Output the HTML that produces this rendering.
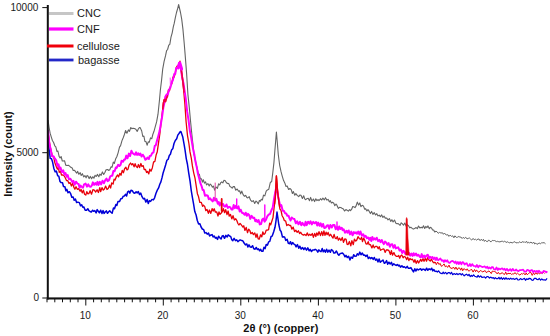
<!DOCTYPE html>
<html><head><meta charset="utf-8"><style>
html,body{margin:0;padding:0;background:#fff;}
body{width:550px;height:336px;overflow:hidden;position:relative;font-family:"Liberation Sans",sans-serif;}
svg{position:absolute;left:0;top:0;}
.t{position:absolute;font-size:10px;line-height:10px;color:#1a1a1a;white-space:nowrap;}
.b{font-weight:bold;color:#111;font-size:11px;line-height:11px;}
.lg{position:absolute;font-size:11px;line-height:11px;color:#1a1a1a;white-space:nowrap;left:77px;}
</style></head><body>
<svg width="550" height="336" viewBox="0 0 550 336">
<rect width="550" height="336" fill="#fff"/>
<path d="M48.0,120.0 L49.1,127.5 L50.1,133.2 L51.4,137.4 L52.4,140.5 L53.6,142.5 L54.8,145.8 L55.8,146.9 L57.0,151.5 L57.9,151.0 L59.1,156.4 L60.1,158.0 L61.1,156.5 L62.3,161.0 L63.6,160.9 L64.6,160.8 L65.7,165.1 L67.0,165.5 L68.4,165.3 L69.6,166.1 L70.8,167.3 L72.2,168.0 L73.2,170.5 L74.6,170.3 L75.7,171.8 L76.7,173.1 L77.7,171.4 L78.8,174.3 L80.2,172.6 L81.2,175.5 L82.4,173.7 L83.7,176.9 L84.9,175.6 L86.1,177.8 L87.1,175.4 L88.1,176.2 L89.1,178.6 L90.4,176.4 L91.6,178.8 L92.7,176.7 L93.9,178.2 L95.1,175.3 L96.2,176.5 L97.5,174.4 L98.8,176.7 L99.9,174.0 L101.1,175.3 L102.4,171.9 L103.7,174.5 L105.0,172.3 L106.1,169.8 L107.6,169.5 L108.6,170.4 L109.8,169.7 L111.1,166.7 L112.1,167.2 L113.3,162.0 L114.3,163.5 L115.6,159.1 L116.9,156.5 L118.1,152.8 L119.5,147.1 L120.6,145.6 L121.9,140.9 L123.2,137.8 L124.4,134.5 L125.6,130.5 L126.9,133.2 L128.4,129.9 L129.5,131.4 L130.8,127.5 L131.8,128.6 L133.1,128.2 L134.4,128.5 L135.8,129.3 L137.2,131.4 L138.3,129.0 L139.4,127.6 L140.2,127.6 L141.7,131.0 L142.8,136.5 L143.9,136.1 L144.9,141.4 L145.9,141.5 L147.2,145.2 L148.2,141.8 L149.3,142.2 L150.5,137.9 L151.8,138.7 L152.8,134.5 L154.0,131.3 L155.2,126.8 L156.6,121.9 L158.0,114.2 L159.4,100.7 L160.4,89.7 L161.6,79.9 L162.7,69.1 L164.1,61.3 L165.5,55.9 L166.6,50.7 L167.6,49.5 L168.7,45.3 L169.8,44.4 L171.0,37.2 L172.2,32.8 L173.3,26.9 L174.2,23.4 L175.4,17.3 L176.5,12.5 L177.8,8.1 L178.6,4.5 L180.5,12.5 L181.7,19.1 L182.9,28.9 L184.2,43.3 L185.2,55.4 L186.6,73.4 L187.9,94.4 L189.3,107.6 L190.7,122.8 L191.8,133.7 L193.0,144.8 L194.0,154.4 L195.2,159.4 L196.2,164.6 L197.2,168.3 L198.3,173.7 L199.3,174.2 L200.4,178.9 L201.4,178.7 L202.4,182.1 L203.4,179.8 L204.4,183.1 L205.6,181.8 L206.5,184.9 L207.9,183.6 L209.2,186.0 L210.2,184.1 L211.3,185.1 L212.4,187.2 L213.5,186.2 L214.6,190.1 L215.9,187.0 L217.4,188.4 L218.6,183.9 L219.7,184.9 L220.7,182.8 L221.8,181.9 L222.9,182.9 L224.0,180.3 L225.3,180.8 L226.4,182.7 L227.3,183.4 L228.8,183.6 L230.0,186.6 L231.0,187.1 L232.2,188.2 L233.2,186.6 L234.4,186.5 L235.8,190.2 L237.2,189.0 L238.5,191.2 L239.6,190.7 L240.7,193.9 L241.8,191.1 L243.1,194.6 L244.3,196.3 L245.6,195.4 L246.8,197.4 L247.8,197.9 L249.2,196.7 L250.6,200.2 L252.0,201.6 L253.3,200.6 L254.7,203.4 L256.0,201.0 L257.1,202.2 L258.3,203.8 L259.4,200.5 L260.4,201.2 L261.3,199.3 L262.4,199.9 L263.5,195.1 L264.8,195.9 L266.2,191.1 L267.4,189.9 L268.8,189.2 L270.3,182.5 L271.7,181.5 L272.8,172.6 L273.9,162.9 L274.9,150.3 L276.4,132.0 L277.1,140.0 L278.3,154.8 L279.7,165.5 L281.1,171.9 L282.3,176.3 L283.5,180.3 L284.9,183.2 L285.9,186.4 L287.2,186.0 L288.6,189.5 L289.9,188.5 L291.2,189.7 L292.4,193.5 L293.4,191.6 L294.8,195.2 L295.9,193.7 L297.2,195.4 L298.7,196.6 L299.8,195.1 L301.0,195.3 L302.4,198.5 L303.7,195.7 L304.7,198.9 L305.8,199.7 L306.8,198.7 L308.2,198.2 L309.5,200.7 L310.6,197.4 L311.9,201.0 L313.4,199.0 L314.6,201.6 L315.8,198.8 L317.0,200.6 L318.0,199.5 L319.0,200.7 L320.4,198.7 L321.7,200.0 L322.9,198.1 L324.3,199.9 L325.5,197.7 L326.8,200.1 L328.2,199.4 L329.3,201.9 L330.3,200.7 L331.4,203.0 L332.5,202.3 L333.8,203.3 L334.8,205.7 L336.0,204.0 L337.0,205.4 L338.4,208.4 L339.5,207.4 L340.7,207.5 L342.0,208.3 L343.4,209.0 L344.5,211.0 L345.9,209.6 L347.1,210.2 L348.3,211.2 L349.6,209.6 L350.5,210.7 L351.7,209.2 L352.7,206.5 L353.7,206.7 L355.0,207.6 L356.1,205.9 L357.3,202.1 L358.6,205.0 L359.8,202.9 L360.9,206.6 L362.1,205.3 L363.4,205.9 L364.7,209.3 L365.7,208.7 L366.9,210.9 L368.0,209.7 L369.1,211.2 L370.4,213.6 L371.6,211.4 L372.9,214.4 L374.2,212.6 L375.6,215.0 L376.8,213.7 L378.0,215.9 L379.2,215.1 L380.4,216.7 L381.7,214.9 L382.9,217.5 L384.1,216.2 L385.3,218.1 L386.7,218.0 L388.0,219.9 L389.4,218.6 L390.8,221.5 L391.9,219.7 L393.1,221.9 L394.5,220.0 L395.9,223.3 L396.9,223.7 L397.9,223.5 L399.1,224.4 L400.1,225.4 L401.2,222.8 L402.2,223.7 L403.5,225.2 L404.8,223.0 L406.2,226.3 L407.2,224.8 L408.5,225.8 L409.8,227.8 L410.8,227.2 L412.2,228.4 L413.6,229.1 L414.7,228.4 L416.1,227.6 L417.3,228.7 L418.5,226.1 L419.9,227.9 L421.3,227.3 L422.3,228.0 L423.5,225.8 L424.7,228.4 L425.8,226.4 L426.9,227.7 L428.0,225.9 L429.3,228.8 L430.2,227.2 L431.5,227.9 L432.6,230.0 L433.6,230.0 L434.7,231.9 L436.0,231.2" fill="none" stroke="#646464" stroke-width="1.1" stroke-linejoin="round"/>
<path d="M436.0,231.2 L437.2,231.9 L438.2,233.3 L439.6,232.4 L441.0,233.1 L442.4,232.7 L443.4,234.3 L444.5,233.0 L445.5,234.5 L446.8,235.0 L447.9,234.7 L448.9,236.4 L450.1,235.1 L451.5,236.4 L452.8,235.8 L453.9,237.8 L454.9,235.8 L456.3,237.4 L457.6,237.2 L458.9,236.4 L459.9,237.2 L460.9,237.0 L462.1,238.5 L463.3,237.3 L464.3,238.5 L465.7,237.2 L467.0,238.9 L468.3,238.4 L469.3,237.9 L470.7,239.2 L471.7,240.1 L473.1,238.4 L474.2,239.8 L475.4,239.2 L476.6,240.1 L478.0,239.0 L479.1,239.1 L480.1,240.7 L481.3,239.2 L482.4,240.6 L483.4,239.3 L484.4,241.4 L485.4,240.1 L486.5,241.5 L487.6,241.6 L488.7,239.9 L490.0,241.4 L491.1,241.8 L492.3,240.4 L493.4,240.6 L494.5,240.5 L495.5,240.8 L496.5,242.1 L497.5,241.1 L498.8,241.8 L500.0,241.9 L501.1,241.4 L502.3,241.2 L503.7,241.9 L504.7,241.0 L506.1,242.6 L507.2,241.7 L508.4,242.4 L509.8,242.9 L510.9,242.2 L512.1,243.0 L513.4,242.3 L514.9,241.7 L516.0,242.9 L517.3,242.7 L518.6,242.7 L519.9,241.7 L521.1,242.9 L522.2,241.6 L523.2,242.3 L524.2,241.7 L525.2,242.7 L526.5,241.2 L527.6,243.2 L528.6,242.2 L529.6,242.9 L531.0,242.1 L532.4,243.4 L533.6,242.0 L534.7,244.0 L535.8,243.1 L536.9,244.3 L538.1,243.8 L539.1,242.9 L540.3,243.8 L541.4,242.9 L542.8,242.8 L544.2,242.7 L545.5,243.8" fill="none" stroke="#646464" stroke-width="1.0" stroke-linejoin="round"/>
<path d="M48.0,140.0 L49.2,150.1 L50.2,158.4 L51.5,158.8 L52.5,161.7 L53.8,168.2 L55.1,171.8 L56.4,171.1 L57.7,175.8 L58.8,176.1 L60.0,181.5 L61.1,182.6 L62.5,182.8 L63.5,186.5 L64.9,186.7 L65.9,190.8 L66.9,189.4 L68.0,192.7 L69.4,191.7 L70.6,193.6 L71.8,197.3 L73.2,197.1 L74.2,200.3 L75.4,199.1 L76.6,202.6 L77.9,202.1 L79.3,202.6 L80.5,205.8 L81.7,204.8 L82.8,207.2 L83.8,206.9 L85.2,210.2 L86.5,210.2 L87.8,208.7 L88.8,210.7 L90.0,211.5 L91.3,212.1 L92.6,210.2 L93.6,211.3 L94.8,210.6 L96.1,212.9 L97.2,209.6 L98.3,211.3 L99.4,212.8 L100.7,210.2 L102.0,213.5 L103.1,210.6 L104.1,213.4 L105.2,212.1 L106.3,210.9 L107.5,213.3 L108.5,212.0 L109.7,210.8 L110.7,212.0 L112.1,213.2 L113.5,207.9 L114.5,208.8 L115.9,204.4 L116.9,205.4 L118.0,201.4 L119.5,201.6 L120.8,198.7 L122.1,198.4 L123.3,196.2 L124.3,196.1 L125.6,194.3 L126.6,196.0 L127.7,191.8 L128.8,191.1 L129.8,193.1 L131.0,190.2 L132.3,190.7 L133.6,192.8 L134.8,193.2 L136.1,191.8 L137.2,192.9 L138.3,191.5 L139.5,194.6 L140.7,193.1 L142.0,196.7 L143.4,198.9 L144.5,198.3 L145.8,202.1 L147.1,199.5 L148.3,203.6 L149.3,200.7 L150.6,201.4 L152.0,199.4 L153.4,199.9 L154.6,197.8 L156.0,193.2 L157.3,190.1 L158.6,187.9 L159.8,184.3 L160.9,181.9 L162.1,177.4 L163.1,173.0 L164.3,169.3 L165.6,165.0 L166.9,160.3 L168.2,159.2 L169.3,155.5 L170.4,154.3 L171.6,149.9 L172.9,148.4 L174.0,143.5 L175.3,140.5 L176.7,138.8 L177.8,135.1 L179.0,133.5 L180.4,131.5 L181.0,131.7 L182.7,136.7 L184.1,144.4 L185.1,150.4 L186.3,158.8 L187.4,164.0 L188.7,172.8 L190.1,181.4 L191.3,190.8 L192.3,196.8 L193.6,204.1 L194.8,211.6 L196.1,215.0 L197.3,220.5 L198.6,223.9 L199.9,223.8 L201.1,227.0 L202.3,229.0 L203.7,229.7 L204.8,233.1 L206.1,232.6 L207.2,234.2 L208.5,233.0 L209.6,235.9 L211.0,235.0 L212.1,234.6 L213.1,237.0 L214.2,236.0 L215.4,238.2 L216.3,237.4 L217.5,239.4 L218.6,236.3 L219.9,237.9 L221.1,239.0 L222.2,236.0 L223.2,235.6 L224.5,238.3 L225.9,235.4 L227.2,236.9 L228.2,234.9 L229.6,236.0 L230.7,236.6 L231.8,239.7 L232.8,240.7 L234.1,238.4 L235.5,240.7 L236.7,239.9 L237.9,241.7 L239.2,240.5 L240.2,239.9 L241.7,240.6 L242.8,240.8 L244.1,243.0 L245.4,244.9 L246.8,244.0 L247.9,247.0 L249.0,244.9 L250.3,247.1 L251.3,247.3 L252.6,245.7 L253.8,248.8 L255.1,249.2 L256.2,247.5 L257.4,249.5 L258.5,248.9 L259.6,250.8 L260.7,249.3 L261.6,251.2 L262.9,251.3 L264.0,247.3 L265.1,248.6 L266.2,244.5 L267.4,245.2 L268.6,241.9 L269.8,241.4 L271.1,236.5 L272.2,236.1 L273.7,231.7 L275.0,227.3 L276.0,220.8 L277.0,212.0 L278.8,224.5 L280.1,230.3 L281.1,231.5 L282.5,237.1 L283.7,236.7 L284.7,237.1 L285.7,240.4 L287.1,239.3 L288.4,243.4 L289.5,243.7 L290.5,241.7 L291.5,244.6 L292.6,242.6 L293.9,244.1 L295.0,244.7 L296.1,246.9 L297.4,244.6 L298.8,248.2 L299.8,246.2 L301.2,249.1 L302.5,247.5 L303.8,249.5 L305.1,247.8 L306.5,250.1 L307.8,247.9 L309.2,250.8 L310.2,249.3 L311.5,251.5 L312.7,250.1 L314.1,250.0 L315.2,249.3 L316.6,250.1 L317.8,252.2 L318.9,249.9 L320.0,251.1 L321.0,251.7 L322.2,248.5 L323.2,251.8 L324.4,250.0 L325.4,252.2 L326.6,249.2 L327.8,252.1 L329.0,250.1 L330.4,252.3 L331.4,249.6 L332.7,250.5 L333.9,253.1 L335.1,252.9 L336.4,251.0 L337.8,253.9 L338.9,255.2 L340.1,253.6 L341.5,253.2 L342.5,253.1 L343.8,254.5 L345.0,256.8 L346.0,255.3 L347.3,257.5 L348.6,256.2 L350.0,259.9 L351.1,257.1 L352.5,258.3 L353.7,254.8 L354.9,256.3 L356.3,256.1 L357.3,253.8 L358.6,255.0 L359.8,252.1 L361.0,254.8 L362.3,253.0 L363.5,255.2 L364.7,254.9 L365.9,256.5 L367.2,255.1 L368.3,258.6 L369.4,257.2 L370.6,258.6 L371.8,257.5 L373.2,259.4 L374.3,257.5 L375.6,260.3 L376.8,259.1 L378.0,261.9 L379.1,259.0 L380.3,262.2 L381.7,261.0 L383.0,260.0 L384.3,263.3 L385.4,262.6 L386.6,260.6 L387.7,264.2 L388.9,262.2 L390.2,264.0 L391.5,262.4 L392.5,265.4 L393.8,263.8 L395.2,265.0 L396.4,265.4 L397.4,264.5 L398.5,265.9 L399.4,265.2 L400.5,267.2 L401.9,265.7 L403.2,267.3 L404.4,266.8 L405.8,268.0 L407.2,266.4 L408.4,268.3 L409.7,268.3 L410.9,267.6 L412.2,269.8 L413.5,271.9 L414.8,268.7 L415.8,271.0 L417.1,269.0 L418.3,270.0 L419.6,269.1 L420.6,268.8 L421.7,270.3 L422.6,269.3 L424.0,269.3 L425.4,270.4 L426.6,268.2 L427.8,270.3 L429.1,268.8 L430.5,269.7 L431.7,268.2 L432.8,270.9 L433.9,269.5 L435.1,271.7" fill="none" stroke="#0000d8" stroke-width="1.5" stroke-linejoin="round"/>
<path d="M435.1,271.7 L436.2,271.0 L437.3,272.0 L438.6,270.8 L440.0,272.8 L441.0,273.4 L442.2,273.7 L443.2,272.1 L444.2,273.7 L445.6,272.3 L446.8,274.0 L448.2,272.7 L449.4,272.7 L450.4,273.8 L451.5,272.3 L452.7,274.7 L454.2,273.6 L455.6,274.4 L456.8,273.5 L457.9,274.7 L458.9,273.9 L460.2,273.6 L461.3,275.0 L462.3,273.7 L463.3,274.9 L464.2,275.8 L465.5,274.7 L466.5,274.2 L468.0,275.6 L469.0,274.3 L470.3,276.6 L471.4,275.3 L472.3,276.3 L473.6,274.8 L474.7,276.2 L476.0,276.7 L477.1,277.1 L478.1,275.4 L479.4,277.1 L480.7,275.8 L482.1,277.5 L483.4,277.2 L484.4,276.8 L485.6,278.1 L486.9,276.6 L488.1,276.6 L489.5,278.0 L490.6,277.1 L492.0,278.1 L493.3,277.6 L494.3,278.8 L495.3,277.6 L496.5,278.7 L497.9,278.7 L498.9,277.3 L500.0,279.1 L501.3,277.5 L502.4,279.4 L503.7,277.8 L504.9,279.3 L505.9,277.7 L507.0,279.2 L508.3,278.4 L509.5,279.3 L510.7,278.1 L511.8,279.2 L513.1,278.4 L514.2,279.4 L515.5,278.9 L516.8,278.2 L517.9,280.0 L519.1,279.9 L520.4,278.6 L521.8,279.6 L523.2,279.0 L524.4,278.4 L525.5,280.3 L526.5,278.8 L527.9,279.5 L529.2,278.3 L530.6,278.7 L531.7,280.0 L532.9,280.3 L534.4,278.3 L535.7,278.3 L537.0,279.5 L538.1,279.7 L539.3,278.5 L540.6,280.2 L541.8,278.9 L543.1,279.9 L544.3,279.9 L545.7,280.1 L547.1,278.4" fill="none" stroke="#0000d8" stroke-width="1.2" stroke-linejoin="round"/>
<path d="M48.0,132.0 L49.0,139.0 L50.1,146.4 L51.4,151.9 L52.4,156.4 L53.7,156.9 L54.7,162.2 L55.9,165.6 L57.3,169.1 L58.3,167.7 L59.3,172.4 L60.5,171.1 L61.5,175.1 L62.8,175.0 L63.8,175.5 L65.1,177.5 L66.5,180.5 L67.8,180.7 L69.0,183.5 L70.1,182.6 L71.4,186.0 L72.6,183.2 L73.8,187.1 L74.9,189.2 L76.0,186.7 L77.3,189.3 L78.7,188.7 L80.1,191.3 L81.1,189.4 L82.2,192.9 L83.4,190.2 L84.6,194.2 L85.8,195.1 L86.8,191.6 L87.8,193.8 L88.9,193.5 L90.1,190.7 L91.5,194.2 L92.9,189.7 L94.3,190.2 L95.7,192.0 L97.1,189.8 L98.4,192.5 L99.8,187.7 L100.7,191.6 L102.0,187.6 L103.3,190.1 L104.4,189.1 L105.6,186.1 L107.0,189.5 L108.2,188.4 L109.5,185.2 L110.6,188.0 L111.7,182.9 L113.1,184.1 L114.1,179.2 L115.1,180.1 L116.4,176.6 L117.6,175.0 L118.6,176.9 L119.9,173.3 L121.0,175.3 L122.2,170.3 L123.4,172.7 L124.6,168.8 L125.9,167.3 L127.0,169.9 L128.0,169.2 L129.1,165.0 L130.5,163.0 L131.7,164.9 L132.7,163.6 L134.1,166.8 L135.1,163.7 L136.2,166.6 L137.4,167.6 L138.4,164.5 L139.6,167.6 L140.9,163.5 L141.9,166.5 L143.2,165.6 L144.2,169.5 L145.4,169.3 L146.6,172.5 L147.6,171.5 L148.8,173.9 L149.8,169.2 L151.0,171.3 L152.3,167.9 L153.6,161.8 L154.9,161.5 L156.2,154.7 L157.2,152.1 L158.6,142.4 L159.9,133.4 L160.9,124.4 L162.3,112.2 L163.8,100.0 L164.5,101.8 L165.5,100.4 L167.1,96.6 L168.5,89.7 L169.5,90.8 L170.8,84.6 L171.8,83.8 L172.9,77.1 L174.0,77.3 L175.0,74.3 L176.2,68.1 L177.3,65.9 L178.4,67.0 L180.0,61.2 L180.9,69.6 L182.3,77.8 L183.5,88.4 L184.9,104.3 L186.1,121.8 L187.5,135.6 L188.9,143.5 L190.0,151.9 L191.3,158.2 L192.4,165.9 L193.7,172.8 L195.0,178.2 L196.4,187.1 L197.4,193.7 L198.5,196.6 L199.8,202.4 L201.3,202.4 L202.6,206.3 L203.5,205.1 L204.8,206.6 L205.8,210.6 L207.0,209.5 L208.4,213.3 L209.4,210.0 L210.8,213.4 L212.1,208.6 L213.1,211.1 L214.2,208.8 L215.4,212.2 L216.7,211.9 L218.0,216.0 L219.0,211.9 L220.0,214.4 L221.0,213.3 L222.3,211.6 L223.4,208.7 L224.6,212.7 L225.7,209.6 L227.0,214.6 L228.1,211.0 L229.2,216.0 L230.5,214.5 L231.8,218.9 L233.0,215.7 L234.4,220.0 L235.8,218.8 L236.8,220.5 L237.9,223.5 L238.9,225.0 L240.1,223.4 L241.5,225.2 L242.9,227.1 L243.8,225.8 L244.9,230.4 L246.2,227.4 L247.5,232.7 L248.7,229.1 L249.9,230.7 L250.9,233.7 L252.3,232.5 L253.4,234.6 L254.8,232.9 L256.0,237.3 L257.0,233.9 L258.2,238.9 L259.2,239.2 L260.6,234.8 L261.8,236.8 L262.8,231.8 L263.9,234.5 L265.0,233.6 L266.2,230.2 L267.4,230.2 L268.6,229.6 L269.7,223.2 L270.7,224.9 L271.9,221.0 L273.0,217.6 L274.0,208.6 L275.2,198.3 L276.4,176.0 L277.6,190.6 L278.6,198.6 L279.9,209.0 L281.0,210.3 L282.1,215.7 L283.3,217.8 L284.4,220.7 L285.6,220.8 L286.8,225.5 L288.2,224.5 L289.7,225.6 L290.6,225.4 L291.9,229.2 L293.2,227.1 L294.6,231.6 L295.9,230.3 L297.2,232.3 L298.4,230.8 L299.6,233.6 L300.7,232.3 L302.0,234.3 L303.4,235.1 L304.8,234.4 L306.1,235.6 L307.2,232.9 L308.5,235.6 L309.8,234.3 L311.0,235.4 L312.3,233.5 L313.4,237.3 L314.7,233.4 L315.8,236.5 L316.8,232.8 L317.9,235.3 L319.0,231.7 L320.5,235.6 L321.7,231.6 L322.8,235.5 L323.9,230.9 L325.0,235.4 L326.1,232.2 L327.1,234.7 L328.1,232.4 L329.4,235.9 L330.6,234.3 L331.8,236.4 L333.0,238.1 L334.1,234.4 L335.2,238.1 L336.2,238.7 L337.3,236.6 L338.4,240.2 L339.7,238.2 L340.9,240.5 L342.3,237.5 L343.5,242.3 L344.9,238.8 L346.1,239.4 L347.1,244.4 L348.1,244.5 L349.4,241.5 L350.8,245.8 L351.9,240.6 L353.3,244.7 L354.4,239.2 L355.8,241.1 L356.8,240.0 L358.0,236.7 L359.4,238.7 L360.5,239.3 L361.6,237.4 L362.5,241.5 L363.6,238.2 L364.7,240.1 L366.0,243.9 L367.0,244.1 L368.2,241.7 L369.2,244.7 L370.5,244.7 L371.9,247.9 L373.1,244.9 L374.2,247.9 L375.5,246.4 L376.9,246.4 L378.2,248.7 L379.2,246.7 L380.5,250.3 L381.9,249.5 L383.0,249.0 L384.0,249.1 L385.1,252.4 L386.3,250.0 L387.7,249.8 L389.0,250.7 L390.4,254.5 L391.4,250.6 L392.5,255.1 L393.9,252.6 L395.1,255.2 L396.3,256.3 L397.6,256.4 L398.7,255.5 L399.7,258.2 L400.8,255.7 L401.8,255.0 L403.1,257.8 L404.2,256.5 L405.4,257.0 L406.7,259.6 L407.7,257.2 L408.9,260.6 L409.9,258.4 L411.3,259.7 L412.5,259.2 L414.0,262.2 L414.9,259.6 L416.2,263.3 L417.5,260.6 L418.6,263.0 L419.6,261.4 L420.7,259.4 L421.7,261.3 L423.0,258.7 L424.0,261.3 L425.4,258.3 L426.5,261.2 L427.8,257.5 L429.0,260.1 L430.2,261.0 L431.5,259.2 L432.7,261.7 L433.9,262.9 L435.2,261.9" fill="none" stroke="#e8000a" stroke-width="1.3" stroke-linejoin="round"/>
<path d="M435.2,261.9 L436.3,264.7 L437.6,262.0 L438.9,264.5 L440.2,263.4 L441.3,266.3 L442.7,265.6 L444.1,263.9 L445.3,266.8 L446.4,265.8 L447.6,267.4 L449.0,265.1 L450.0,267.6 L451.0,268.1 L452.2,268.6 L453.4,267.0 L454.8,269.3 L455.9,267.1 L457.3,269.8 L458.4,267.9 L459.7,268.0 L460.7,270.2 L461.7,267.9 L462.7,270.8 L463.7,268.8 L464.9,269.1 L466.1,270.3 L467.2,268.8 L468.6,271.1 L469.7,270.8 L470.8,269.5 L471.8,269.6 L473.1,272.1 L474.5,269.5 L475.6,271.7 L476.5,269.9 L477.9,271.8 L479.0,272.3 L480.4,270.5 L481.6,271.2 L482.9,272.0 L484.0,271.0 L485.3,270.8 L486.5,272.8 L487.6,271.5 L489.0,271.0 L490.0,271.9 L491.3,273.6 L492.3,271.1 L493.6,271.4 L494.7,271.6 L496.1,272.3 L497.1,273.9 L498.3,272.3 L499.5,274.0 L500.9,273.6 L502.3,272.6 L503.6,274.2 L504.6,274.4 L505.7,272.1 L506.8,274.6 L508.0,273.1 L509.1,273.8 L510.1,273.1 L511.4,274.4 L512.7,273.8 L513.8,273.9 L515.2,272.6 L516.3,274.3 L517.5,273.2 L518.6,274.2 L519.9,275.1 L521.3,273.6 L522.4,274.1 L523.7,273.1 L525.1,274.9 L526.2,273.0 L527.3,274.8 L528.5,273.5 L529.9,272.5 L530.9,272.5 L532.2,275.4 L533.5,273.0 L534.6,274.6 L535.9,272.6 L537.3,274.3 L538.3,272.8 L539.7,274.0 L540.8,272.5 L542.2,273.5 L543.5,272.3 L544.6,273.5" fill="none" stroke="#e8000a" stroke-width="1.0" stroke-linejoin="round"/>
<path d="M48.0,130.0 L49.3,143.5 L50.7,149.3 L52.0,156.3 L53.5,156.2 L54.9,158.7 L56.2,160.4 L57.5,165.9 L58.5,164.3 L59.5,168.8 L60.5,167.6 L61.9,172.1 L63.2,170.3 L64.4,174.5 L65.5,173.0 L66.6,176.8 L67.7,175.1 L68.9,179.3 L70.4,178.8 L71.5,180.5 L72.5,182.1 L73.5,180.9 L74.6,184.8 L76.0,181.7 L77.4,183.6 L78.6,184.0 L79.6,187.8 L80.6,185.6 L81.6,186.7 L83.0,187.7 L84.1,184.3 L85.6,183.6 L87.0,186.6 L88.3,184.4 L89.5,186.5 L90.9,186.8 L91.9,185.3 L92.9,182.4 L94.1,184.8 L95.3,183.1 L96.4,184.7 L97.5,181.9 L98.4,185.0 L99.8,181.8 L101.1,184.4 L102.5,180.8 L104.0,183.1 L105.1,180.3 L106.5,178.6 L107.6,181.1 L109.0,180.1 L110.3,176.3 L111.3,175.8 L112.3,175.8 L113.4,171.1 L114.6,171.3 L115.8,167.6 L116.7,167.9 L118.1,164.8 L119.4,166.0 L120.6,164.8 L121.6,160.8 L123.0,161.7 L124.2,159.5 L125.2,159.5 L126.3,155.6 L127.5,158.3 L128.9,153.6 L130.1,156.0 L131.4,150.8 L132.5,152.9 L133.5,153.8 L134.9,154.7 L136.1,152.3 L137.1,154.9 L138.3,153.3 L139.3,155.0 L140.4,153.6 L141.6,156.5 L142.8,154.7 L144.1,156.7 L145.4,159.8 L146.6,158.9 L147.5,157.5 L148.9,159.0 L149.8,155.9 L151.0,155.7 L152.2,153.1 L153.5,152.3 L154.8,145.9 L155.8,145.3 L157.1,140.3 L158.4,135.7 L159.6,131.1 L160.6,125.4 L162.0,117.3 L163.3,107.8 L164.2,103.8 L165.3,96.8 L166.8,94.3 L167.8,94.8 L169.0,89.7 L170.3,87.7 L171.7,82.5 L172.9,80.0 L174.2,74.1 L175.2,74.0 L176.2,67.9 L177.7,68.0 L179.0,63.1 L180.0,65.0 L181.0,68.9 L182.0,76.6 L183.5,83.5 L184.5,90.4 L185.8,99.0 L187.2,111.9 L188.5,119.8 L189.9,131.1 L191.0,136.3 L192.0,142.6 L193.0,148.7 L194.3,154.5 L195.3,160.8 L196.7,166.9 L198.0,174.0 L199.1,178.0 L200.4,183.2 L201.5,185.8 L202.7,190.1 L203.7,190.1 L205.0,195.8 L206.4,195.2 L207.8,195.7 L208.8,199.3 L210.1,198.4 L211.4,200.1 L212.7,201.4 L213.9,197.8 L215.2,200.5 L216.4,198.9 L217.8,203.8 L218.8,202.1 L219.7,205.6 L221.0,202.9 L222.1,204.6 L223.2,204.1 L224.2,206.4 L225.5,206.4 L226.5,204.5 L227.8,207.9 L229.2,206.8 L230.4,207.4 L231.4,209.4 L232.6,209.4 L233.7,205.0 L234.9,208.1 L235.9,205.8 L237.3,208.4 L238.5,206.4 L239.7,211.5 L240.7,209.7 L242.0,212.8 L243.3,213.3 L244.7,214.7 L245.7,212.7 L246.9,215.8 L248.0,213.9 L249.3,215.2 L250.3,218.9 L251.6,215.9 L253.0,217.9 L254.3,217.7 L255.3,221.2 L256.3,219.8 L257.3,221.9 L258.6,220.1 L259.8,224.4 L261.1,224.0 L262.2,219.5 L263.4,218.6 L264.6,221.6 L265.9,219.9 L267.3,216.4 L268.6,214.7 L270.0,214.0 L271.4,210.3 L272.7,207.6 L274.0,199.1 L275.0,193.8 L276.5,186.0 L277.7,194.6 L278.8,199.6 L280.2,206.0 L281.3,205.1 L282.7,210.8 L283.8,210.8 L285.1,213.3 L286.2,213.5 L287.3,215.8 L288.5,215.7 L289.6,218.6 L290.6,220.5 L291.7,217.5 L293.2,218.7 L294.4,219.0 L295.9,223.3 L297.2,221.3 L298.5,224.3 L300.0,221.8 L301.3,225.2 L302.4,222.8 L303.5,224.7 L304.6,225.6 L305.6,221.8 L306.7,225.1 L308.1,221.7 L309.5,223.6 L310.6,221.3 L311.9,224.4 L313.2,221.9 L314.6,223.2 L316.0,222.0 L317.2,225.5 L318.2,222.6 L319.6,225.8 L320.7,223.4 L321.9,226.7 L323.1,224.0 L324.3,228.0 L325.7,227.5 L326.7,225.7 L328.0,225.2 L329.2,228.8 L330.4,224.9 L331.9,227.4 L333.0,225.0 L334.4,224.9 L335.7,229.3 L337.1,227.1 L338.1,229.8 L339.2,226.5 L340.3,229.0 L341.7,227.7 L342.6,230.1 L343.7,229.3 L345.0,232.7 L346.5,230.8 L347.5,232.7 L348.7,230.5 L350.0,234.4 L351.3,231.6 L352.6,235.3 L353.9,232.1 L355.0,233.3 L356.1,232.3 L357.0,233.7 L358.3,231.5 L359.4,234.5 L360.5,231.5 L361.9,235.7 L363.2,234.2 L364.4,236.9 L365.7,235.9 L366.9,238.2 L368.2,237.5 L369.3,239.9 L370.3,237.8 L371.3,241.0 L372.3,237.0 L373.4,239.6 L374.4,238.4 L375.5,239.6 L376.7,237.7 L378.1,241.1 L379.4,239.9 L380.5,242.1 L381.8,240.0 L382.8,242.4 L383.8,244.1 L385.0,241.6 L386.1,242.5 L387.4,244.7 L388.6,243.0 L389.9,246.8 L390.9,244.5 L392.3,244.3 L393.4,247.8 L394.8,245.1 L395.8,248.4 L397.1,247.8 L398.2,247.4 L399.6,250.5 L400.9,249.5 L402.2,253.0 L403.3,250.9 L404.2,251.3 L405.3,253.8 L406.7,252.1 L407.7,254.2 L409.0,252.9 L410.2,255.7 L411.5,253.6 L412.6,255.9 L413.6,253.3 L414.6,255.3 L416.0,253.5 L417.2,255.7 L418.4,254.7 L419.7,256.8 L420.7,257.2 L421.7,254.1 L422.7,257.4 L424.1,255.5 L425.1,257.5 L426.5,255.6 L427.7,254.7 L429.0,258.1 L430.0,256.7 L431.3,257.9 L432.4,257.0 L433.5,258.9 L434.8,257.6 L435.8,260.5" fill="none" stroke="#ff00ff" stroke-width="2.0" stroke-linejoin="round"/>
<path d="M435.8,260.5 L436.8,257.6 L438.2,260.3 L439.3,259.3 L440.4,258.5 L441.8,260.8 L442.8,260.1 L443.9,262.0 L444.9,260.1 L446.1,261.5 L447.2,260.2 L448.5,262.5 L449.7,262.9 L451.1,261.4 L452.0,260.9 L453.3,261.4 L454.7,262.9 L455.7,261.5 L456.7,263.9 L457.9,261.9 L458.9,264.1 L460.1,262.0 L461.4,264.4 L462.4,262.1 L463.4,262.3 L464.6,264.5 L465.6,263.6 L466.7,263.2 L467.9,265.8 L468.9,265.8 L469.9,263.9 L471.0,266.1 L472.2,264.1 L473.6,266.0 L474.9,266.0 L475.8,266.9 L476.9,264.9 L478.2,267.4 L479.5,265.6 L480.8,266.2 L482.3,267.1 L483.6,266.7 L484.6,266.4 L486.1,267.9 L487.3,266.6 L488.3,268.5 L489.4,267.5 L490.8,268.6 L491.8,267.0 L492.8,267.0 L493.9,269.2 L495.3,269.6 L496.5,267.5 L497.8,270.0 L498.8,268.5 L500.0,269.4 L501.1,268.8 L502.2,268.4 L503.4,269.6 L504.6,268.7 L505.6,270.6 L507.0,268.8 L508.2,270.8 L509.2,270.0 L510.2,269.1 L511.5,270.9 L512.7,268.8 L513.7,270.4 L514.9,270.5 L516.2,269.5 L517.4,270.8 L518.5,271.2 L519.7,270.1 L520.9,270.2 L522.2,269.8 L523.2,269.7 L524.6,271.7 L526.0,271.7 L527.3,269.8 L528.7,270.2 L529.8,271.6 L531.2,270.1 L532.2,270.1 L533.3,272.4 L534.5,270.8 L535.9,271.9 L536.9,270.9 L538.0,272.3 L539.0,270.7 L540.2,272.2 L541.2,272.4 L542.2,273.1 L543.6,270.9 L544.8,271.2 L546.2,272.4 L547.4,271.4" fill="none" stroke="#ff00ff" stroke-width="1.7" stroke-linejoin="round"/>
<g fill="none" stroke-linecap="round"><path d="M215.2,183 L215.2,200" stroke="#e040a0" stroke-width="1"/><path d="M221.7,199 L221.7,211" stroke="#e8000a" stroke-width="1.8"/><path d="M236.7,199 L236.7,208" stroke="#ff00ff" stroke-width="1.4"/><path d="M264.8,205 L264.8,220" stroke="#ff00ff" stroke-width="1.4"/><path d="M337,222 L337,228" stroke="#ff00ff" stroke-width="1.4"/><path d="M405.7,255 L406.1,219 L406.6,217.5 L407.3,219 L408,238 L409.2,255 Z" fill="#e8000a" stroke="#e8000a" stroke-width="0.5"/><path d="M162.8,109 L163.4,103 L164.6,99.5 L165.6,101.5 L166.4,98.5 L167.6,96" stroke="#f0003c" stroke-width="1.7" stroke-linejoin="round"/><path d="M181.2,68 L182.2,76 L183.4,86 L184,92" stroke="#f0003c" stroke-width="1.6" stroke-linejoin="round"/><path d="M178.2,68 L179.8,63 L181.6,69" stroke="#ff00ff" stroke-width="3" stroke-linejoin="round"/><path d="M170.2,78 L170.4,86" stroke="#ff30ff" stroke-width="0.9"/><path d="M274.6,204 L275.4,196 L276.4,176 L277.6,192 L278.6,200 L279.6,207" stroke="#e8000a" stroke-width="1.4" stroke-linejoin="round"/></g>
<g stroke="#111" stroke-width="1"><line x1="47.0" y1="299" x2="47.0" y2="302.3"/><line x1="54.8" y1="299" x2="54.8" y2="302.3"/><line x1="62.5" y1="299" x2="62.5" y2="302.3"/><line x1="70.3" y1="299" x2="70.3" y2="302.3"/><line x1="78.0" y1="299" x2="78.0" y2="302.3"/><line x1="85.8" y1="299" x2="85.8" y2="305.5"/><line x1="93.6" y1="299" x2="93.6" y2="302.3"/><line x1="101.3" y1="299" x2="101.3" y2="302.3"/><line x1="109.1" y1="299" x2="109.1" y2="302.3"/><line x1="116.8" y1="299" x2="116.8" y2="302.3"/><line x1="124.6" y1="299" x2="124.6" y2="302.3"/><line x1="132.3" y1="299" x2="132.3" y2="302.3"/><line x1="140.1" y1="299" x2="140.1" y2="302.3"/><line x1="147.8" y1="299" x2="147.8" y2="302.3"/><line x1="155.6" y1="299" x2="155.6" y2="302.3"/><line x1="163.3" y1="299" x2="163.3" y2="305.5"/><line x1="171.1" y1="299" x2="171.1" y2="302.3"/><line x1="178.8" y1="299" x2="178.8" y2="302.3"/><line x1="186.6" y1="299" x2="186.6" y2="302.3"/><line x1="194.3" y1="299" x2="194.3" y2="302.3"/><line x1="202.1" y1="299" x2="202.1" y2="302.3"/><line x1="209.8" y1="299" x2="209.8" y2="302.3"/><line x1="217.6" y1="299" x2="217.6" y2="302.3"/><line x1="225.3" y1="299" x2="225.3" y2="302.3"/><line x1="233.1" y1="299" x2="233.1" y2="302.3"/><line x1="240.8" y1="299" x2="240.8" y2="305.5"/><line x1="248.6" y1="299" x2="248.6" y2="302.3"/><line x1="256.3" y1="299" x2="256.3" y2="302.3"/><line x1="264.1" y1="299" x2="264.1" y2="302.3"/><line x1="271.8" y1="299" x2="271.8" y2="302.3"/><line x1="279.6" y1="299" x2="279.6" y2="302.3"/><line x1="287.4" y1="299" x2="287.4" y2="302.3"/><line x1="295.1" y1="299" x2="295.1" y2="302.3"/><line x1="302.9" y1="299" x2="302.9" y2="302.3"/><line x1="310.6" y1="299" x2="310.6" y2="302.3"/><line x1="318.4" y1="299" x2="318.4" y2="305.5"/><line x1="326.1" y1="299" x2="326.1" y2="302.3"/><line x1="333.9" y1="299" x2="333.9" y2="302.3"/><line x1="341.6" y1="299" x2="341.6" y2="302.3"/><line x1="349.4" y1="299" x2="349.4" y2="302.3"/><line x1="357.1" y1="299" x2="357.1" y2="302.3"/><line x1="364.9" y1="299" x2="364.9" y2="302.3"/><line x1="372.6" y1="299" x2="372.6" y2="302.3"/><line x1="380.4" y1="299" x2="380.4" y2="302.3"/><line x1="388.1" y1="299" x2="388.1" y2="302.3"/><line x1="395.9" y1="299" x2="395.9" y2="305.5"/><line x1="403.6" y1="299" x2="403.6" y2="302.3"/><line x1="411.4" y1="299" x2="411.4" y2="302.3"/><line x1="419.1" y1="299" x2="419.1" y2="302.3"/><line x1="426.9" y1="299" x2="426.9" y2="302.3"/><line x1="434.6" y1="299" x2="434.6" y2="302.3"/><line x1="442.4" y1="299" x2="442.4" y2="302.3"/><line x1="450.1" y1="299" x2="450.1" y2="302.3"/><line x1="457.9" y1="299" x2="457.9" y2="302.3"/><line x1="465.6" y1="299" x2="465.6" y2="302.3"/><line x1="473.4" y1="299" x2="473.4" y2="305.5"/><line x1="481.2" y1="299" x2="481.2" y2="302.3"/><line x1="488.9" y1="299" x2="488.9" y2="302.3"/><line x1="496.7" y1="299" x2="496.7" y2="302.3"/><line x1="504.4" y1="299" x2="504.4" y2="302.3"/><line x1="512.2" y1="299" x2="512.2" y2="302.3"/><line x1="519.9" y1="299" x2="519.9" y2="302.3"/><line x1="527.7" y1="299" x2="527.7" y2="302.3"/><line x1="535.4" y1="299" x2="535.4" y2="302.3"/><line x1="543.2" y1="299" x2="543.2" y2="302.3"/> <line x1="42.3" y1="298.0" x2="47" y2="298.0"/><line x1="42.3" y1="152.7" x2="47" y2="152.7"/><line x1="42.3" y1="7.6" x2="47" y2="7.6"/></g>
<rect x="46.8" y="5" width="2" height="294.5" fill="#111"/>
<rect x="46.8" y="297.4" width="503.2" height="2.1" fill="#111"/>
<line x1="49" y1="13.5" x2="73.5" y2="13.5" stroke="#c6c6c6" stroke-width="3"/>
<line x1="49" y1="29" x2="73.5" y2="29" stroke="#ff00ff" stroke-width="3.2"/>
<line x1="47" y1="46" x2="73.5" y2="46" stroke="#f0000a" stroke-width="3"/>
<line x1="49" y1="60" x2="73.5" y2="60" stroke="#2328c8" stroke-width="2.8"/>
</svg>
<div class="lg" style="top:8px;">CNC</div>
<div class="lg" style="top:23.5px;">CNF</div>
<div class="lg" style="top:40.5px;">cellulose</div>
<div class="lg" style="top:54.5px;left:78px;">bagasse</div>
<div class="t" style="left:10.5px;top:2.5px;">10000</div>
<div class="t" style="left:16.4px;top:147.9px;">5000</div>
<div class="t" style="left:33.6px;top:293.2px;">0</div>
<div class="t" style="left:70.3px;top:310.7px;width:30px;text-align:center;">10</div>
<div class="t" style="left:147.8px;top:310.7px;width:30px;text-align:center;">20</div>
<div class="t" style="left:225.3px;top:310.7px;width:30px;text-align:center;">30</div>
<div class="t" style="left:302.9px;top:310.7px;width:30px;text-align:center;">40</div>
<div class="t" style="left:380.4px;top:310.7px;width:30px;text-align:center;">50</div>
<div class="t" style="left:457.9px;top:310.7px;width:30px;text-align:center;">60</div>
<div class="t b" style="left:243.3px;top:322.9px;letter-spacing:0.08px;" id="xt">2&theta; (&deg;) (copper)</div>
<div class="t b" id="yt" style="left:7.5px;top:154px;transform:translate(-50%,-50%) rotate(-90deg);">Intensity (count)</div>
</body></html>
